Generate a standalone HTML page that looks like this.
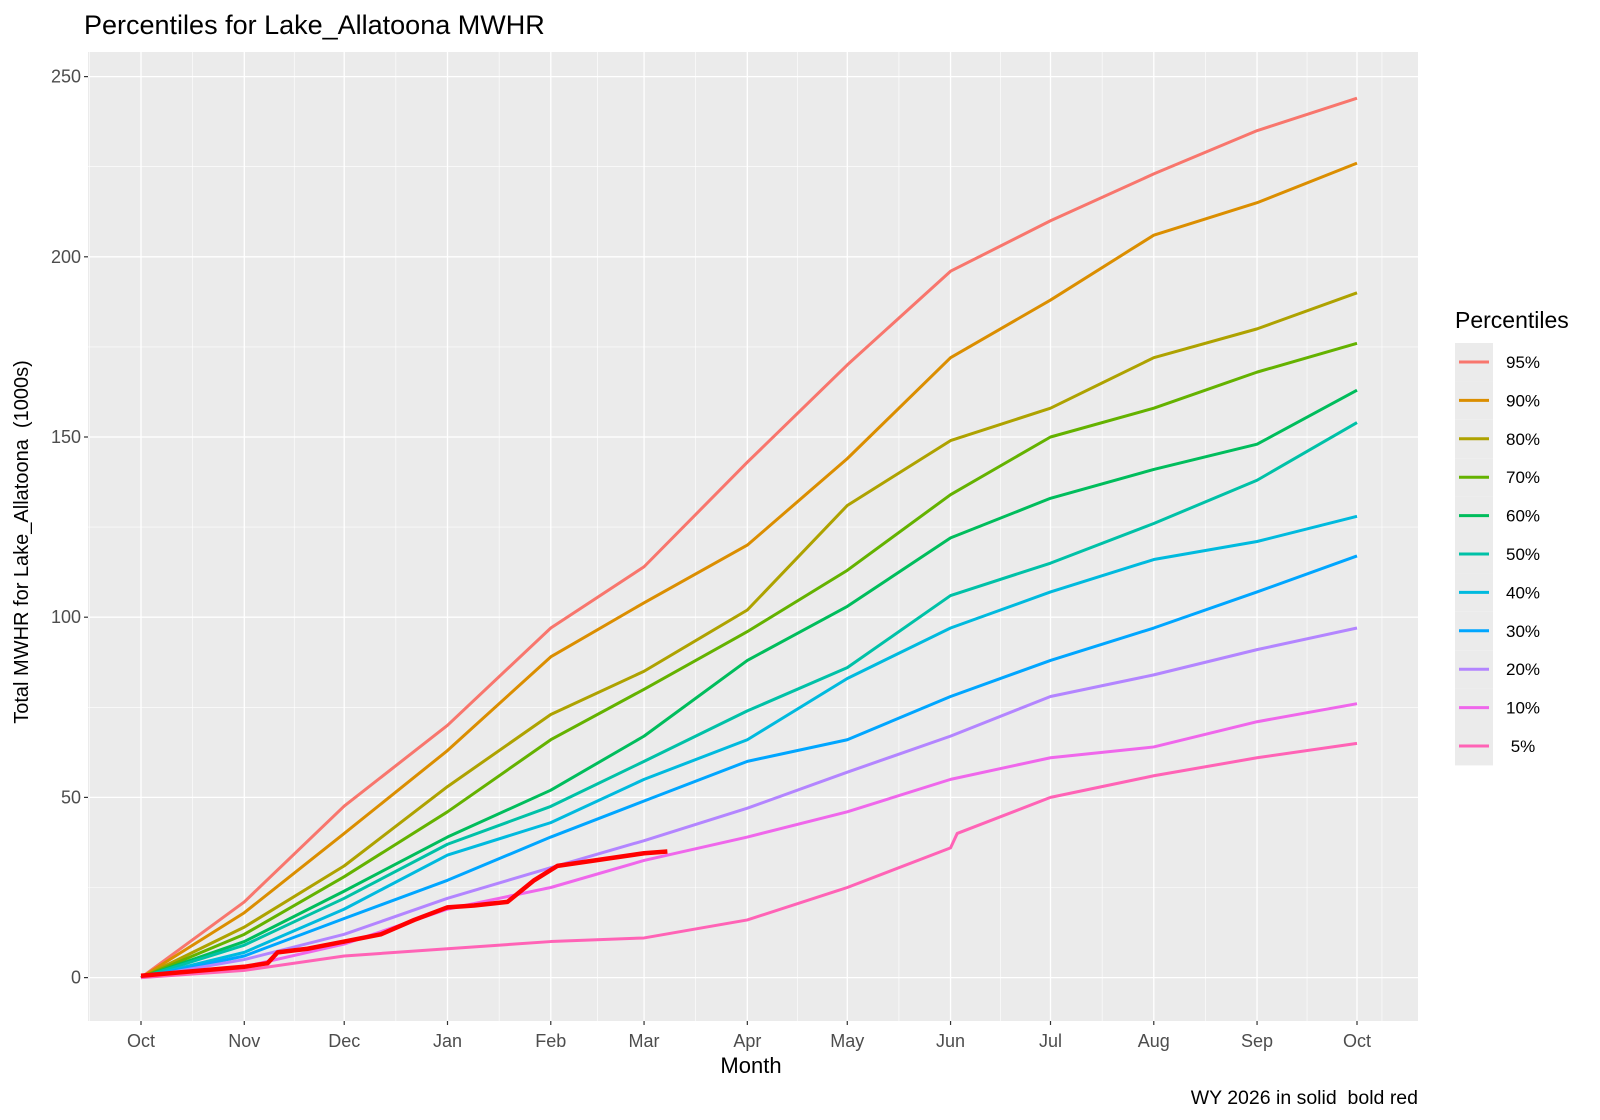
<!DOCTYPE html>
<html><head><meta charset="utf-8"><style>
body{margin:0;background:#fff}
svg{display:block;font-family:"Liberation Sans",sans-serif}
</style></head><body>
<svg id="s" width="1600" height="1120" xmlns="http://www.w3.org/2000/svg">
<rect x="0" y="0" width="1600" height="1120" fill="#fff"/>
<rect x="88" y="52" width="1330" height="969" fill="#EBEBEB"/>
<g id="grid"></g>
<g id="lines"></g>
<g id="axes"></g>
<text x="84" y="34" font-size="27" fill="#000">Percentiles for Lake_Allatoona MWHR</text>
<text x="751" y="1073" font-size="22" text-anchor="middle" fill="#000">Month</text>
<text transform="translate(28,542) rotate(-90)" font-size="20" text-anchor="middle" fill="#000" style="white-space:pre">Total MWHR for Lake_Allatoona  (1000s)</text>
<text x="1418" y="1104" font-size="19.5" text-anchor="end" fill="#000" style="white-space:pre">WY 2026 in solid  bold red</text>
<text x="1455" y="328" font-size="23" fill="#000">Percentiles</text>
<g id="leg"></g>
</svg>
<script>
const NS="http://www.w3.org/2000/svg";
function el(p,t,a,txt){const e=document.createElementNS(NS,t);for(const k in a)e.setAttribute(k,a[k]);if(txt!==undefined)e.textContent=txt;p.appendChild(e);return e;}
const X=d=>141+d*3.3315, Y=v=>977.6-v*3.604;
const mdays=[0,31,61,92,123,151,182,212,243,273,304,335,365];
const mn=["Oct","Nov","Dec","Jan","Feb","Mar","Apr","May","Jun","Jul","Aug","Sep","Oct"];
const g=document.getElementById("grid"),ax=document.getElementById("axes");
for(let i=-1;i<13;i++){let a=i<0?-15.5:(mdays[i]+(i<12?mdays[i+1]:380))/2; let x=X(a); if(x>88&&x<1418) el(g,"line",{x1:x,x2:x,y1:52,y2:1021,stroke:"#fff","stroke-width":0.6});}
for(let v=-25;v<=275;v+=50){let y=Y(v); if(y>52&&y<1021) el(g,"line",{x1:88,x2:1418,y1:y,y2:y,stroke:"#fff","stroke-width":0.6});}
mdays.forEach((d,i)=>{let x=X(d);el(g,"line",{x1:x,x2:x,y1:52,y2:1021,stroke:"#fff","stroke-width":1.3});
 el(ax,"line",{x1:x,x2:x,y1:1021,y2:1025,stroke:"#333","stroke-width":1.2});
 el(ax,"text",{x:x,y:1047,"font-size":18,"text-anchor":"middle",fill:"#4D4D4D"},mn[i]);});
for(let v=0;v<=250;v+=50){let y=Y(v);el(g,"line",{x1:88,x2:1418,y1:y,y2:y,stroke:"#fff","stroke-width":1.3});
 el(ax,"line",{x1:84,x2:88,y1:y,y2:y,stroke:"#333","stroke-width":1.2});
 el(ax,"text",{x:81,y:y+6,"font-size":18,"text-anchor":"end",fill:"#4D4D4D"},v);}
const S=[
["95%","#F8766D",[0,21,47.6,70,97,114,143,170,196,210,223,235,244]],
["90%","#DB8E00",[0,18,40,63,89,104,120,144,172,188,206,215,226]],
["80%","#AEA200",[0,14,31,53,73,85,102,131,149,158,172,180,190]],
["70%","#64B200",[0,12,28,46,66,80,96,113,134,150,158,168,176]],
["60%","#00BD5C",[0,10,24,39,52,67,88,103,122,133,141,148,163]],
["50%","#00C1A7",[0,9,22,37,47.5,60,74,86,106,115,126,138,154]],
["40%","#00BADE",[0,7,19,34,43,55,66,83,97,107,116,121,128]],
["30%","#00A6FF",[0,6,16.4,27,39,49,60,66,78,88,97,107,117]],
["20%","#B385FF",[0,5,12,22,30.5,38,47,57,67,78,84,91,97]],
["10%","#EF67EB",[0,3,9.3,19,25,32.5,39,46,55,61,64,71,76]],
[" 5%","#FF63B6",[0,2,6,8,10,11,16,25,[36,40],50,56,61,65]]];
const L=document.getElementById("lines"),lg=document.getElementById("leg");
S.forEach((s,k)=>{let pts=[];s[2].forEach((v,i)=>{if(Array.isArray(v)){pts.push(X(mdays[i])+","+Y(v[0]));pts.push(X(mdays[i]+2)+","+Y(v[1]));}else pts.push(X(mdays[i])+","+Y(v));});
 el(L,"polyline",{points:pts.join(" "),fill:"none",stroke:s[1],"stroke-width":3,"stroke-linejoin":"round"});
 let y=362+k*38.4;
 el(lg,"rect",{x:1455,y:y-19,width:38,height:38.4,fill:"#EBEBEB"});
 el(lg,"line",{x1:1459,x2:1489,y1:y,y2:y,stroke:s[1],"stroke-width":3});
 el(lg,"text",{x:1506,y:y+6,"font-size":17,fill:"#000","style":"white-space:pre"},s[0]);});
const R=[[0,0.5],[31,3],[38,4],[41,7],[50,8],[61,10],[72,12],[82,16],[92,19.5],[100,20],[110,21],[118,27],[125,31],[151,34.5],[158,35]];
el(L,"polyline",{points:R.map(p=>X(p[0])+","+Y(p[1])).join(" "),fill:"none",stroke:"#FF0000","stroke-width":4.5,"stroke-linejoin":"round"});
</script>
</body></html>
